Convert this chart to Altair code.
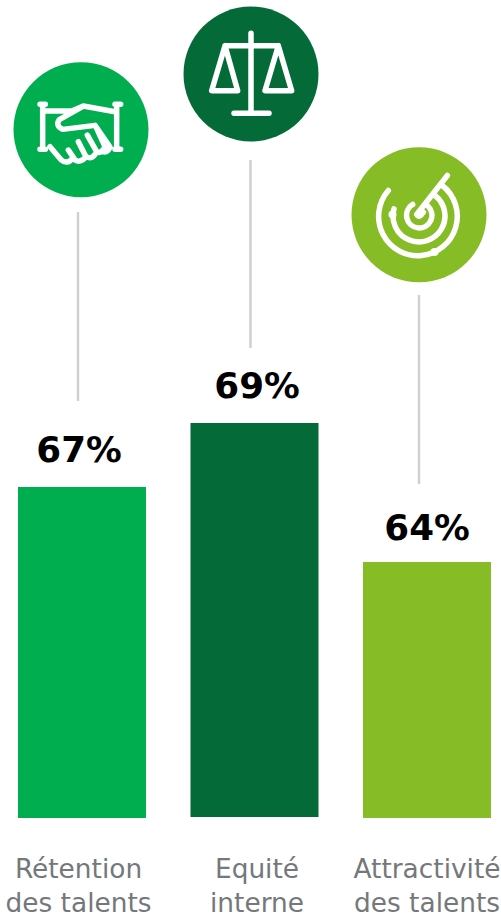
import altair as alt
import pandas as pd

# Survey results
categories = ["Rétention\ndes talents", "Equité\ninterne", "Attractivité\ndes talents"]
scores = [67, 69, 64]
palette = ["#00AE4F", "#046A38", "#86BC25"]

FONT = "DejaVu Sans"
W, H = 501, 922

table = pd.DataFrame({
    "category": categories,
    "score": scores,
    "slot": list(range(len(categories))),
    "score_label": [f"{s}%" for s in scores],
})
slots = [0, 1, 2]

# Pictograms in local units around each disc centre (three units per pixel).
HANDSHAKE = (
    "M-115,-76 V59 M-123,-76 H-107 M-123,59 H-107 "
    "M107,-76 V59 M102,-76 H119 M102,59 H119 "
    "M-115,-56 H-28 L7,-71 L102,-54 "
    "M7,-71 L-65,-30 Q-78,-12 -55,-1 L42,-13 L87,52 Q80,70 65,66 "
    "M-93,51 L-60,90 Q-42,106 -25,86 Q-5,105 15,81 Q35,92 47,66 Q60,74 72,51 "
    "M-38,61 L-21,86 M-8,36 L15,81 M19,16 L47,66 M47,-4 L72,51"
)
BALANCE = (
    "M0,-122 V118 M-51,118 H54 M-78,-85 H82 "
    "M-78,-85 L-118,50 H-40 Z M82,-85 L42,50 H122 Z"
)
RADAR = (
    "M-92,-73 A118,118 0 1 0 70,-88 "
    "M-75,-18 A78,78 0 1 0 48,-58 "
    "M-19,-31 A38,38 0 1 0 27,-26 "
    "M85,-118 L-7,-1 Q0,12 13,-8"
)

# Disc centre, leader line span and pictogram for each column
disc_x = [81, 251, 419]
disc_y = [129.7, 74, 214.8]
leader_x = [78, 250.5, 419]
leader_top = [212, 160, 295]
leader_bottom = [401, 348, 484]
bar_bottom = [818, 817, 818]
icons = [HANDSHAKE, BALANCE, RADAR]

layers = []

# Bars
band = alt.Scale(domain=categories, range=[18, 491], paddingInner=0.258, paddingOuter=0)
value_scale = alt.Scale(domain=[54, 64, 67, 69], range=[818, 562, 487, 423])
color_scale = alt.Scale(domain=categories, range=palette)
for i, cat in enumerate(categories):
    layers.append(
        alt.Chart(table[table["category"] == cat]).mark_rect().encode(
            x=alt.X("category:N", scale=band, axis=None, sort=categories),
            y=alt.Y("score:Q", scale=value_scale, axis=None),
            y2=alt.value(bar_bottom[i]),
            color=alt.Color("category:N", scale=color_scale, legend=None),
        )
    )

# Score labels above the bars
layers.append(
    alt.Chart(table).mark_text(
        font=FONT, fontSize=35.7, fontWeight="bold", color="#000000",
        align="center", baseline="alphabetic",
    ).encode(
        x=alt.X("slot:Q", scale=alt.Scale(domain=slots, range=[79, 257, 427]), axis=None),
        y=alt.Y("score:Q", scale=alt.Scale(domain=[64, 67, 69], range=[540, 462, 398]), axis=None),
        text="score_label:N",
    )
)

# Category captions under the bars
layers.append(
    alt.Chart(table).mark_text(
        font=FONT, fontSize=26.4, color="#75787B", align="center", baseline="alphabetic",
        lineBreak="\n", lineHeight=34,
    ).encode(
        x=alt.X("slot:Q", scale=alt.Scale(domain=slots, range=[78.5, 257, 427]), axis=None),
        y=alt.value(878),
        text="category:N",
    )
)

# Leader lines, discs and pictograms
for i in slots:
    row = alt.Data(values=[{"slot": i}])
    layers.append(
        alt.Chart(row).mark_rule(color="#D0D0D0", strokeWidth=2.5).encode(
            x=alt.value(leader_x[i]), y=alt.value(leader_top[i]), y2=alt.value(leader_bottom[i]),
        )
    )
    layers.append(
        alt.Chart(row).mark_circle(size=135 ** 2, opacity=1, color=palette[i]).encode(
            x=alt.value(disc_x[i]), y=alt.value(disc_y[i]),
        )
    )
    layers.append(
        alt.Chart(row).mark_point(
            shape=icons[i], size=4 / 9, filled=False, opacity=1, color="#FFFFFF",
            strokeWidth=5.5, strokeCap="round", strokeJoin="round",
        ).encode(x=alt.value(disc_x[i]), y=alt.value(disc_y[i]))
    )

# The two beads sitting on the radar's arcs
for bx, by in [(392.5, 214.5), (434.5, 252)]:
    layers.append(
        alt.Chart(alt.Data(values=[{"slot": 2}])).mark_circle(size=64, opacity=1, color="#FFFFFF").encode(
            x=alt.value(bx), y=alt.value(by),
        )
    )

chart = (
    alt.layer(*layers)
    .resolve_scale(x="independent", y="independent", color="independent")
    .properties(width=W, height=H, padding=0, autosize="none", background="#FFFFFF")
    .configure_view(stroke=None)
)

chart.save("out.html", embed_options={"renderer": "svg", "actions": False})
